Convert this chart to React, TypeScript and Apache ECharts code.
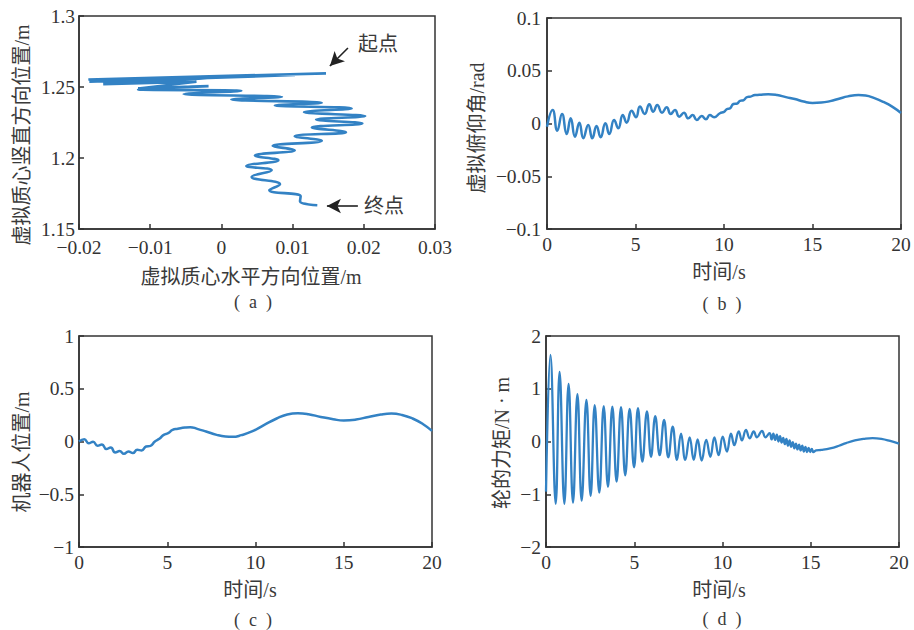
import React, { useEffect, useRef } from 'react';
import * as echarts from 'echarts';

// (a) virtual centre-of-mass trajectory (turning points)
const trajX = [0.01469, -0.01869, 0.01034, -0.01855, 0.00495, -0.0171, -0.0002, -0.0166, -0.0035, -0.0117, -0.0018, -0.0117, 0.0028, -0.0053, 0.0085, 0.0014, 0.0141, 0.0075, 0.0183, 0.0116, 0.0202, 0.0133, 0.0198, 0.0127, 0.0175, 0.0103, 0.0141, 0.0072, 0.0103, 0.0047, 0.008, 0.0035, 0.00706, 0.00425, 0.00823, 0.00673, 0.01113, 0.01104, 0.01347];
const trajY = [1.2596, 1.2553, 1.2584, 1.2537, 1.2577, 1.2553, 1.2567, 1.252, 1.2537, 1.249, 1.2506, 1.2483, 1.2473, 1.245, 1.2431, 1.2412, 1.2389, 1.237, 1.2349, 1.2323, 1.2295, 1.2271, 1.2243, 1.2215, 1.2182, 1.2154, 1.2121, 1.2085, 1.2055, 1.2017, 1.1984, 1.1944, 1.1914, 1.1867, 1.1815, 1.1773, 1.173, 1.1695, 1.1667];

// (b) virtual pitch angle
const pitchT = [0, 0.32, 0.58, 0.85, 1.11, 1.34, 1.58, 1.83, 2.05, 2.33, 2.56, 2.8, 3.03, 3.3, 3.52, 3.79, 4.03, 4.28, 4.5, 4.78, 5.03, 5.25, 5.52, 5.78, 6.0, 6.23, 6.5, 6.76, 6.99, 7.23, 7.47, 7.74, 7.98, 8.23, 8.46, 8.74, 8.98, 9.2, 9.44, 9.77, 10.0, 10.15, 10.35, 10.53, 10.75, 10.9, 11.1, 11.3, 11.5, 11.75, 12.0, 12.5, 13.0, 13.5, 14.0, 14.5, 15.0, 15.5, 16.0, 16.5, 17.0, 17.6, 18.0, 18.5, 19.0, 19.5, 20.0];
const pitchV = [-0.003, 0.0128, -0.0068, 0.009, -0.01, 0.0049, -0.0125, 0.0008, -0.014, -0.0014, -0.014, -0.0024, -0.013, 0.0002, -0.01, 0.0033, -0.0046, 0.008, 0.0008, 0.0121, 0.0059, 0.016, 0.009, 0.0182, 0.0112, 0.0175, 0.0102, 0.0153, 0.009, 0.0128, 0.0065, 0.0102, 0.0049, 0.008, 0.0033, 0.0071, 0.004, 0.008, 0.0059, 0.0097, 0.011, 0.0135, 0.0145, 0.0185, 0.019, 0.0215, 0.022, 0.025, 0.0255, 0.027, 0.0272, 0.0278, 0.027, 0.025, 0.0232, 0.0208, 0.0195, 0.0198, 0.0212, 0.0235, 0.0257, 0.027, 0.0265, 0.024, 0.0205, 0.016, 0.01];

// (c) robot position
const posT = [0, 0.3, 0.55, 0.8, 1.05, 1.3, 1.55, 1.8, 2.05, 2.3, 2.55, 2.8, 3.05, 3.3, 3.55, 3.8, 4.05, 4.3, 4.55, 4.8, 5.05, 5.3, 5.6, 6.0, 6.3, 6.7, 7.2, 7.8, 8.3, 8.7, 9.2, 9.8, 10.5, 11.2, 11.8, 12.4, 13.0, 13.7, 14.4, 15.0, 15.7, 16.4, 17.1, 17.7, 18.3, 18.9, 19.5, 20.0];
const posV = [0.0, 0.022, -0.016, -0.003, -0.04, -0.028, -0.072, -0.057, -0.104, -0.091, -0.117, -0.095, -0.11, -0.079, -0.085, -0.047, -0.041, 0.0, 0.025, 0.063, 0.079, 0.11, 0.12, 0.132, 0.136, 0.12, 0.095, 0.063, 0.047, 0.044, 0.06, 0.095, 0.158, 0.218, 0.256, 0.268, 0.259, 0.233, 0.211, 0.199, 0.208, 0.233, 0.256, 0.265, 0.252, 0.218, 0.164, 0.101];

// (d) wheel torque
const torqueT = [0, 0.25, 0.55, 0.77, 1.04, 1.28, 1.53, 1.78, 2.02, 2.29, 2.53, 2.76, 3.02, 3.27, 3.51, 3.76, 4.0, 4.25, 4.49, 4.74, 4.99, 5.21, 5.46, 5.72, 5.95, 6.19, 6.44, 6.69, 6.93, 7.18, 7.42, 7.65, 7.89, 8.14, 8.37, 8.59, 8.82, 9.08, 9.31, 9.54, 9.78, 10.01, 10.25, 10.48, 10.67, 10.92, 11.1, 11.33, 11.54, 11.77, 11.95, 12.24, 12.43, 12.67, 12.78, 12.88, 12.98, 13.08, 13.17, 13.26, 13.35, 13.44, 13.53, 13.62, 13.71, 13.8, 13.89, 13.98, 14.07, 14.16, 14.25, 14.34, 14.43, 14.52, 14.61, 14.7, 14.79, 14.88, 14.97, 15.06, 15.15, 15.3, 15.6, 16.1, 16.6, 17.0, 17.5, 18.0, 18.5, 19.0, 19.5, 20.0];
const torqueV = [-0.95, 1.64, -1.18, 1.32, -1.18, 1.09, -1.16, 0.9, -1.12, 0.79, -1.03, 0.69, -0.97, 0.67, -0.86, 0.66, -0.76, 0.65, -0.64, 0.62, -0.49, 0.63, -0.38, 0.57, -0.29, 0.48, -0.26, 0.41, -0.3, 0.28, -0.35, 0.15, -0.35, 0.08, -0.35, 0.04, -0.36, 0.03, -0.29, 0.08, -0.26, 0.09, -0.19, 0.15, -0.07, 0.19, 0.02, 0.22, 0.06, 0.19, 0.08, 0.2, 0.08, 0.16, 0.04, 0.15, 0.03, 0.13, 0.0, 0.1, -0.02, 0.07, -0.05, 0.05, -0.08, 0.02, -0.1, -0.01, -0.13, -0.04, -0.15, -0.06, -0.17, -0.08, -0.19, -0.1, -0.2, -0.12, -0.2, -0.14, -0.2, -0.17, -0.16, -0.13, -0.08, -0.03, 0.02, 0.05, 0.065, 0.05, 0.01, -0.04];

const LINE = '#3382c4';
const AXIS = '#333';
const NUM_FONT = "'Liberation Serif', 'Times New Roman', serif";
const TITLE_FONT = "'Liberation Serif', 'Noto Sans CJK SC', serif";

const zip = (a: number[], b: number[]) => a.map((v, i) => [v, b[i]]);
const fmt = (v: number) => String(parseFloat(v.toFixed(4))).replace('-', '\u2212');

function axis(min: number, max: number, interval: number, gi: number, margin: number) {
  return {
    type: 'value', gridIndex: gi, min, max, interval,
    axisLine: { show: true, onZero: false, lineStyle: { color: AXIS, width: 1.5 } },
    axisTick: { show: true, inside: true, length: 5, lineStyle: { color: AXIS, width: 1.5 } },
    axisLabel: { show: true, margin, color: '#333', fontSize: 19.5, fontFamily: NUM_FONT, formatter: fmt },
    splitLine: { show: false },
  };
}

function txt(x: number, y: number, text: string, size: number, rot = 0) {
  return {
    type: 'text', x, y, rotation: rot,
    style: {
      text, fill: '#3a3a3a', font: `${size}px ${TITLE_FONT}`,
      textAlign: 'center', textVerticalAlign: 'middle', align: 'center', verticalAlign: 'middle',
    },
  };
}

export default function App() {
  const ref = useRef<HTMLDivElement>(null);
  useEffect(() => {
    if (!ref.current) return;
    const chart = echarts.init(ref.current, undefined, { renderer: 'svg' });
    const gridStyle = { show: true, borderColor: AXIS, borderWidth: 1.5, containLabel: false };
    const lineSeries = (data: number[][], xi: number, smooth: number, width: number) => ({
      type: 'line', xAxisIndex: xi, yAxisIndex: xi, data, showSymbol: false, smooth,
      lineStyle: { color: LINE, width }, itemStyle: { color: LINE }, silent: true,
    });
    const arrowLine = (from: number[], to: number[]) => [
      { coord: from, symbol: 'none' },
      { coord: to, symbol: 'arrow', symbolSize: [11, 14] },
    ];
    chart.setOption({
      animation: false,
      backgroundColor: '#fff',
      grid: [
        { left: 79, top: 16, width: 356, height: 213, ...gridStyle },
        { left: 547, top: 18, width: 354, height: 211, ...gridStyle },
        { left: 79, top: 336, width: 353, height: 211, ...gridStyle },
        { left: 546, top: 336, width: 353, height: 211, ...gridStyle },
      ],
      xAxis: [
        axis(-0.02, 0.03, 0.01, 0, 8),
        axis(0, 20, 5, 1, 5),
        axis(0, 20, 5, 2, 5),
        axis(0, 20, 5, 3, 5),
      ],
      yAxis: [
        axis(1.15, 1.3, 0.05, 0, 4),
        axis(-0.1, 0.1, 0.05, 1, 6),
        axis(-1, 1, 0.5, 2, 5),
        axis(-2, 2, 1, 3, 5),
      ],
      series: [
        {
          ...lineSeries(zip(trajX, trajY), 0, 0.45, 2.6),
          markLine: {
            silent: true,
            label: { show: false },
            lineStyle: { color: '#222', width: 1.6, type: 'solid' },
            data: [
              arrowLine([0.01777, 1.2775], [0.01524, 1.2648]),
              arrowLine([0.01917, 1.1662], [0.01482, 1.1662]),
            ],
          },
        },
        lineSeries(zip(pitchT, pitchV), 1, 0.5, 2.5),
        lineSeries(zip(posT, posV), 2, 0.5, 2.5),
        lineSeries(zip(torqueT, torqueV), 3, 0.45, 2.3),
      ],
      graphic: [
        txt(378, 44, '起点', 20),
        txt(384, 206, '终点', 20),
        txt(251, 277, '虚拟质心水平方向位置/m', 20),
        txt(22, 135, '虚拟质心竖直方向位置/m', 20, Math.PI / 2),
        txt(253, 302, '(\u2002a\u2002)', 18),
        txt(719, 272, '时间/s', 20),
        txt(477, 128, '虚拟俯仰角/rad', 20, Math.PI / 2),
        txt(722, 304, '(\u2002b\u2002)', 18),
        txt(250, 590, '时间/s', 20),
        txt(22, 452, '机器人位置/m', 20, Math.PI / 2),
        txt(253, 620, '(\u2002c\u2002)', 18),
        txt(719, 590, '时间/s', 20),
        txt(502, 443, '轮的力矩/N · m', 20, Math.PI / 2),
        txt(722, 619, '(\u2002d\u2002)', 18),
      ],
    });
    return () => chart.dispose();
  }, []);
  return <div ref={ref} style={{ position: 'fixed', left: 0, top: 0, width: 914, height: 630 }} />;
}
